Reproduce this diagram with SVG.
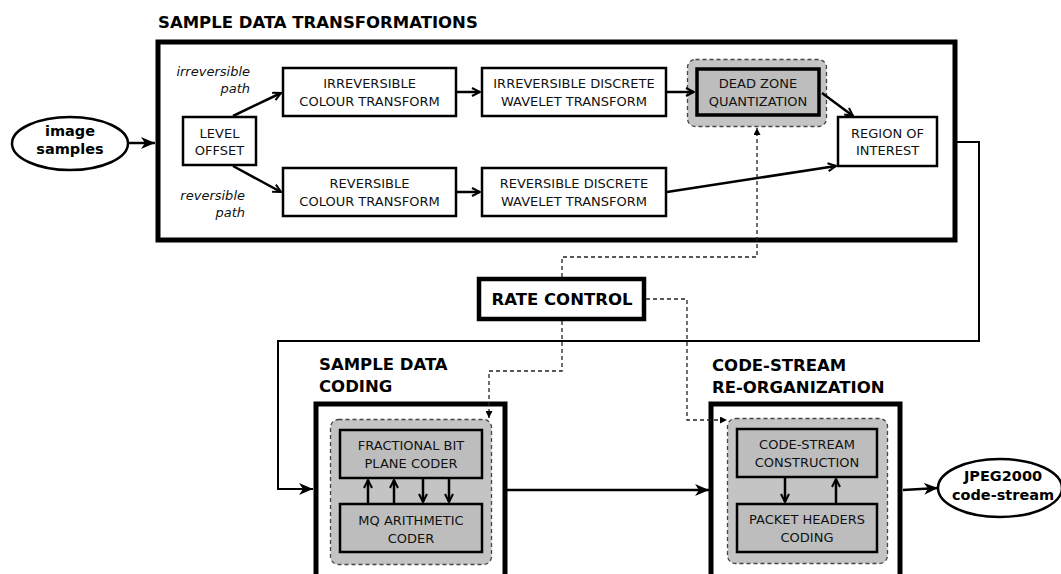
<svg xmlns="http://www.w3.org/2000/svg" width="1061" height="574" viewBox="0 0 1061 574">
<defs>
<style>
.t{font-family:"DejaVu Sans",sans-serif;font-size:13px;fill:#111;text-anchor:middle}
.it{font-family:"DejaVu Sans",sans-serif;font-size:13px;font-style:italic;fill:#111;text-anchor:end}
.h{font-family:"DejaVu Sans",sans-serif;font-size:16.5px;font-weight:bold;fill:#000}
.e{font-family:"DejaVu Sans",sans-serif;font-size:14.5px;font-weight:bold;fill:#000;text-anchor:middle}
.big{fill:#fff;stroke:#000;stroke-width:5}
.box{fill:#fff;stroke:#000;stroke-width:2.5}
.gbox{fill:#bdbdbd;stroke:#000;stroke-width:2.5}
.grp{fill:#c4c4c4;stroke:#444;stroke-width:1.3;stroke-dasharray:4,3}
.c{fill:none;stroke:#000;stroke-width:2.5}
.cs{fill:none;stroke:#000;stroke-width:2}
.d{fill:none;stroke:#222;stroke-width:1.3;stroke-dasharray:4,3}
</style>
<marker id="chev" viewBox="0 0 10 10" refX="9" refY="5" markerWidth="10" markerHeight="10" markerUnits="userSpaceOnUse" orient="auto">
<path d="M1,1 L9,5 L1,9" fill="none" stroke="#000" stroke-width="2"/>
</marker>
<marker id="tri" viewBox="0 0 14 12" refX="14" refY="6" markerWidth="14" markerHeight="12" markerUnits="userSpaceOnUse" orient="auto">
<path d="M0,0 L14,6 L0,12 L4,6 Z" fill="#000"/>
</marker>
<marker id="dtri" viewBox="0 0 7 7" refX="7" refY="3.5" markerWidth="7" markerHeight="7" markerUnits="userSpaceOnUse" orient="auto">
<path d="M0,0 L7,3.5 L0,7 Z" fill="#000"/>
</marker>
</defs>
<rect width="1061" height="574" fill="#fff"/>

<g id="image-samples">
<ellipse cx="70" cy="143.5" rx="58" ry="26.5" fill="#fff" stroke="#000" stroke-width="2.5"/>
<text class="e" x="70" y="136">image</text>
<text class="e" x="70" y="154">samples</text>
</g>

<g id="sample-data-transformations">
<text class="h" x="158" y="28">SAMPLE DATA TRANSFORMATIONS</text>
<rect class="big" x="158" y="42" width="797" height="198"/>
</g>

<g id="level-offset">
<rect class="box" x="183" y="117" width="73" height="48"/>
<text class="t" x="219.5" y="137.5">LEVEL</text>
<text class="t" x="219.5" y="155">OFFSET</text>
</g>

<g id="path-labels">
<text class="it" x="250" y="76">irreversible</text>
<text class="it" x="250" y="93">path</text>
<text class="it" x="245" y="200">reversible</text>
<text class="it" x="245" y="217">path</text>
</g>

<g id="ict">
<rect class="box" x="283" y="68" width="173" height="48"/>
<text class="t" x="369.5" y="88">IRREVERSIBLE</text>
<text class="t" x="369.5" y="106">COLOUR TRANSFORM</text>
</g>

<g id="rct">
<rect class="box" x="283" y="168" width="173" height="48"/>
<text class="t" x="369.5" y="188">REVERSIBLE</text>
<text class="t" x="369.5" y="206">COLOUR TRANSFORM</text>
</g>

<g id="idwt">
<rect class="box" x="482" y="68" width="184" height="48"/>
<text class="t" x="574" y="88">IRREVERSIBLE DISCRETE</text>
<text class="t" x="574" y="106">WAVELET TRANSFORM</text>
</g>

<g id="rdwt">
<rect class="box" x="482" y="168" width="184" height="48"/>
<text class="t" x="574" y="188">REVERSIBLE DISCRETE</text>
<text class="t" x="574" y="206">WAVELET TRANSFORM</text>
</g>

<g id="dead-zone">
<rect class="grp" x="687.5" y="59.5" width="139" height="67" rx="8"/>
<rect class="gbox" x="697" y="69" width="122" height="46" style="stroke-width:3.5"/>
<text class="t" x="758" y="88">DEAD ZONE</text>
<text class="t" x="758" y="106">QUANTIZATION</text>
</g>

<g id="roi">
<rect class="box" x="838" y="117" width="99" height="49"/>
<text class="t" x="887.5" y="137.5">REGION OF</text>
<text class="t" x="887.5" y="155">INTEREST</text>
</g>

<g id="rate-control">
<rect x="479" y="279" width="165" height="40" fill="#fff" stroke="#000" stroke-width="4.5"/>
<text class="h" x="562" y="305" text-anchor="middle">RATE CONTROL</text>
</g>

<g id="sample-data-coding">
<text class="h" x="319" y="370">SAMPLE DATA</text>
<text class="h" x="319" y="392">CODING</text>
<rect class="big" x="316" y="404" width="189" height="200"/>
<rect class="grp" x="330.5" y="419.5" width="161" height="145" rx="8"/>
<rect class="gbox" x="340" y="430" width="142" height="48"/>
<text class="t" x="411" y="450">FRACTIONAL BIT</text>
<text class="t" x="411" y="467.5">PLANE CODER</text>
<rect class="gbox" x="340" y="504" width="142" height="48"/>
<text class="t" x="411" y="525">MQ ARITHMETIC</text>
<text class="t" x="411" y="542.5">CODER</text>
</g>

<g id="code-stream-reorganization">
<text class="h" x="712" y="371">CODE-STREAM</text>
<text class="h" x="712" y="393">RE-ORGANIZATION</text>
<rect class="big" x="711" y="404" width="189" height="200"/>
<rect class="grp" x="727.5" y="418.5" width="160" height="145" rx="8"/>
<rect class="gbox" x="737" y="429" width="140" height="48"/>
<text class="t" x="807" y="449">CODE-STREAM</text>
<text class="t" x="807" y="466.5">CONSTRUCTION</text>
<rect class="gbox" x="737" y="504" width="140" height="48"/>
<text class="t" x="807" y="524">PACKET HEADERS</text>
<text class="t" x="807" y="541.5">CODING</text>
</g>

<g id="jpeg2000">
<ellipse cx="1000" cy="488" rx="62" ry="29" fill="#fff" stroke="#000" stroke-width="2.5"/>
<text class="e" x="1003" y="481">JPEG2000</text>
<text class="e" x="1003" y="500">code-stream</text>
</g>

<g id="connectors">
<line class="c" x1="128" y1="143" x2="155" y2="143" marker-end="url(#tri)"/>
<line class="c" x1="233" y1="116" x2="281" y2="93" marker-end="url(#chev)"/>
<line class="c" x1="233" y1="166" x2="281" y2="192" marker-end="url(#chev)"/>
<line class="c" x1="457" y1="92" x2="480" y2="92" marker-end="url(#chev)"/>
<line class="c" x1="457" y1="192" x2="480" y2="192" marker-end="url(#chev)"/>
<line class="c" x1="667" y1="92" x2="694" y2="92" marker-end="url(#chev)"/>
<line class="c" x1="822" y1="93" x2="853" y2="116" marker-end="url(#chev)"/>
<line class="c" x1="667" y1="192" x2="836" y2="166" marker-end="url(#chev)"/>
<polyline class="cs" points="957,142 979,142 979,341 278,341 278,489 313,489" marker-end="url(#tri)"/>
<line class="c" x1="507" y1="490" x2="709" y2="490" marker-end="url(#tri)"/>
<line class="c" x1="903" y1="490" x2="938" y2="488" marker-end="url(#tri)"/>
<polyline class="d" points="562,277 562,257 757,257 757,128" marker-end="url(#dtri)"/>
<polyline class="d" points="562,321 562,371 489,371 489,418" marker-end="url(#dtri)"/>
<polyline class="d" points="646,299 687,299 687,420 727,420" marker-end="url(#dtri)"/>
<line class="c" x1="368" y1="503" x2="368" y2="480" marker-end="url(#chev)"/>
<line class="c" x1="394" y1="503" x2="394" y2="480" marker-end="url(#chev)"/>
<line class="c" x1="423" y1="479" x2="423" y2="502" marker-end="url(#chev)"/>
<line class="c" x1="449" y1="479" x2="449" y2="502" marker-end="url(#chev)"/>
<line class="c" x1="785" y1="478" x2="785" y2="502" marker-end="url(#chev)"/>
<line class="c" x1="836" y1="503" x2="836" y2="479" marker-end="url(#chev)"/>
</g>
</svg>
